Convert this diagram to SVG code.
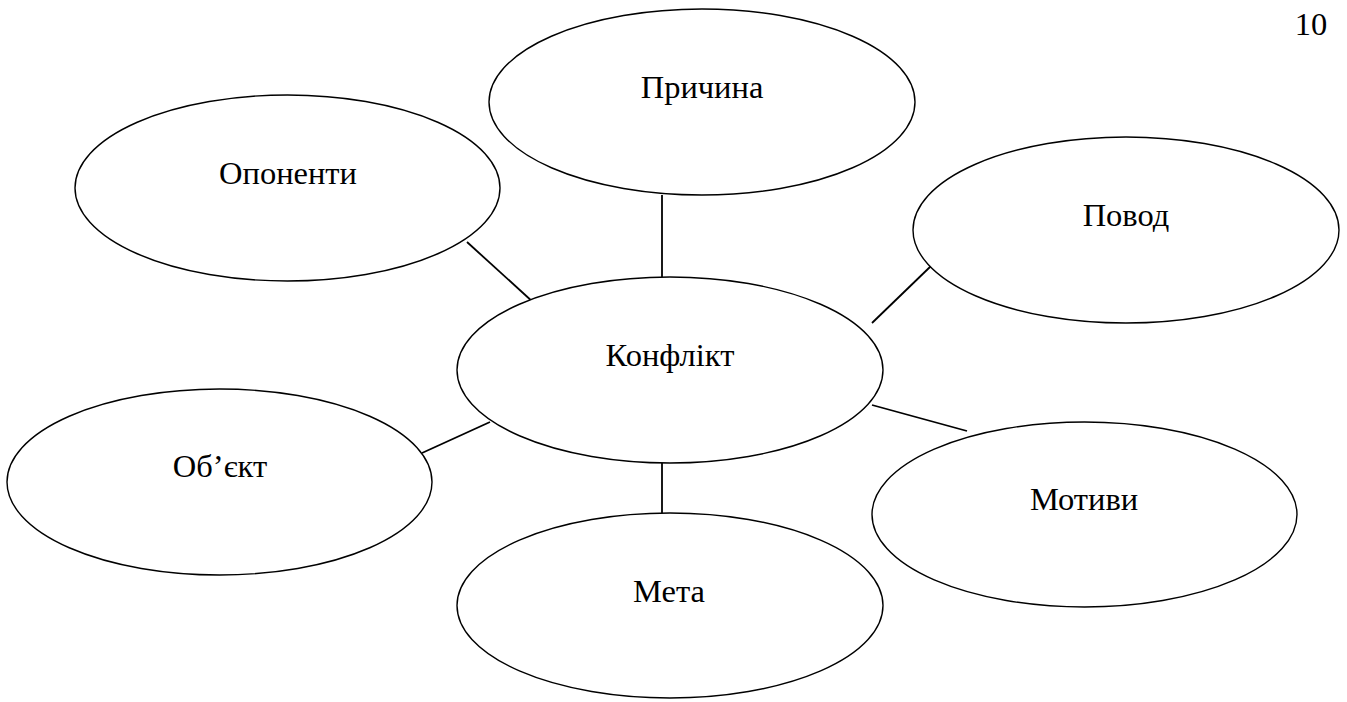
<svg xmlns="http://www.w3.org/2000/svg" width="1347" height="702" viewBox="0 0 1347 702">
<style>
.n ellipse{fill:#fff;stroke:#000;stroke-width:1.4}
.t{font-family:"Liberation Serif","Times New Roman",serif;font-size:32.5px;fill:#000;text-anchor:middle}
#connectors line{stroke:#000;stroke-width:1.8}
</style>
<rect width="1347" height="702" fill="#fff"/>
<g id="connectors">
<line x1="662" y1="195" x2="662" y2="277"/>
<line x1="467" y1="242" x2="534" y2="303"/>
<line x1="931" y1="266" x2="872" y2="323"/>
<line x1="872" y1="405" x2="967" y2="431"/>
<line x1="490" y1="422" x2="422" y2="453"/>
<line x1="662" y1="463" x2="662" y2="513"/>
</g>
<g id="node-prychyna" class="n"><ellipse cx="702" cy="102" rx="213" ry="93"/><text class="t" x="702" y="98">Причина</text></g>
<g id="node-oponenty" class="n"><ellipse cx="287.5" cy="188" rx="212.5" ry="93"/><text class="t" x="288" y="184">Опоненти</text></g>
<g id="node-povod" class="n"><ellipse cx="1126" cy="230" rx="213" ry="93"/><text class="t" x="1126" y="226">Повод</text></g>
<g id="node-konflikt" class="n"><ellipse cx="670" cy="370" rx="213" ry="93"/><text class="t" x="670" y="366">Конфлікт</text></g>
<g id="node-obiekt" class="n"><ellipse cx="219.5" cy="482" rx="212.5" ry="93"/><text class="t" x="220" y="477">Об’єкт</text></g>
<g id="node-motyvy" class="n"><ellipse cx="1084.5" cy="514.5" rx="212.5" ry="92.5"/><text class="t" x="1084" y="510">Мотиви</text></g>
<g id="node-meta" class="n"><ellipse cx="670" cy="605.5" rx="213" ry="92.5"/><text class="t" x="669" y="602">Мета</text></g>
<text class="t" x="1311" y="35">10</text>
</svg>
